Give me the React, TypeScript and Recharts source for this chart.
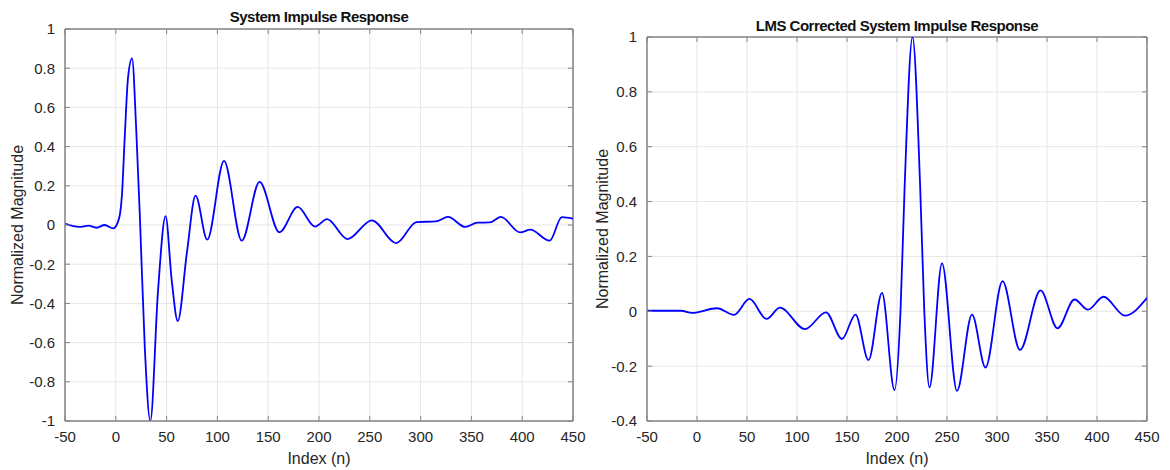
import React from 'react';
import { LineChart, Line, XAxis, YAxis, CartesianGrid, ReferenceLine } from 'recharts';

// ---------- data ----------
const xTicks = [-50, 0, 50, 100, 150, 200, 250, 300, 350, 400, 450];
const leftYTicks = [-1, -0.8, -0.6, -0.4, -0.2, 0, 0.2, 0.4, 0.6, 0.8, 1];
const rightYTicks = [-0.4, -0.2, 0, 0.2, 0.4, 0.6, 0.8, 1];

const leftTitle = 'System Impulse Response';
const rightTitle = 'LMS Corrected System Impulse Response';
const xLabel = 'Index (n)';
const yLabel = 'Normalized Magnitude';

const leftIndex = [
  -50, -36, -27, -19, -11, -2.5, 3, 6, 9, 12, 16, 20, 24, 28.5, 34, 41.5, 49, 55, 61, 70, 78.5,
  90, 106.5, 124, 141.5, 161, 179, 196, 208, 228, 252, 276, 296, 315, 327, 344, 356, 368, 379,
  398, 408, 427, 439, 450,
];
const leftMagnitude = [
  0.007, -0.01, -0.003, -0.014, 0.0, -0.017, 0.03, 0.15, 0.47, 0.75, 0.85, 0.5, 0.0, -0.62, -1.0,
  -0.34, 0.045, -0.28, -0.49, -0.14, 0.15, -0.075, 0.327, -0.08, 0.22, -0.037, 0.092, -0.008,
  0.03, -0.072, 0.024, -0.092, 0.015, 0.018, 0.041, -0.01, 0.012, 0.013, 0.041, -0.038, -0.024,
  -0.08, 0.04, 0.032,
];

const rightIndex = [
  -50, -16, -5, 20, 37, 52.5, 69.5, 83, 108, 129, 145, 158.5, 171.5, 185, 197.5, 203.5, 207.6,
  215.5, 223.2, 227.3, 232.5, 245, 260, 275, 288.5, 305.5, 323, 343.5, 360.5, 377.5, 391, 406.5,
  428, 450,
];
const rightMagnitude = [
  0.002, 0.002, -0.006, 0.011, -0.013, 0.045, -0.028, 0.013, -0.065, -0.004, -0.101, -0.012,
  -0.178, 0.067, -0.287, 0.0, 0.45, 1.0, 0.45, 0.0, -0.277, 0.175, -0.29, -0.012, -0.205, 0.11,
  -0.141, 0.076, -0.062, 0.043, 0.006, 0.053, -0.016, 0.049,
];

const leftData = leftIndex.map((n, i) => ({ n, v: leftMagnitude[i] }));
const rightData = rightIndex.map((n, i) => ({ n, v: rightMagnitude[i] }));

// ---------- style ----------
const FONT = '"Liberation Sans", Arial, Helvetica, sans-serif';
const AXIS = '#858585';
const GRID = '#e6e6e6';
const TEXT = '#262626';
const LINE = '#0000ff';
const TICK_MARGIN = 10;
const TICK_LEN = 5;
const TICK_FONT = 15;

const fmt = (v: number) => {
  const r = Math.round(v * 10) / 10;
  return String(r);
};

const makeXTick = (plotTop: number) => (props: any) => {
  const { x, y, payload } = props;
  const axisY = y - TICK_MARGIN;
  return (
    <g>
      <line x1={x} x2={x} y1={axisY} y2={axisY - TICK_LEN} stroke={AXIS} strokeWidth={1} />
      <line x1={x} x2={x} y1={plotTop} y2={plotTop + TICK_LEN} stroke={AXIS} strokeWidth={1} />
      <text x={x} y={y} dy="0.72em" textAnchor="middle" fill={TEXT} fontSize={TICK_FONT} fontFamily={FONT}>
        {fmt(payload.value)}
      </text>
    </g>
  );
};

const makeYTick = (plotRight: number) => (props: any) => {
  const { x, y, payload } = props;
  const axisX = x + TICK_MARGIN;
  return (
    <g>
      <line x1={axisX} x2={axisX + TICK_LEN} y1={y} y2={y} stroke={AXIS} strokeWidth={1} />
      <line x1={plotRight} x2={plotRight - TICK_LEN} y1={y} y2={y} stroke={AXIS} strokeWidth={1} />
      <text x={x} y={y} dy="0.36em" textAnchor="end" fill={TEXT} fontSize={TICK_FONT} fontFamily={FONT}>
        {fmt(payload.value)}
      </text>
    </g>
  );
};

type PanelProps = {
  data: { n: number; v: number }[];
  yTicks: number[];
  yDomain: [number, number];
  top: number;
  left: number;
  right: number;
};

const W = 590;
const H = 470;
const PLOT_BOTTOM = 421;

function Panel({ data, yTicks, yDomain, top, left, right }: PanelProps) {
  const plotRight = right;
  return (
    <LineChart
      width={W}
      height={H}
      data={data}
      margin={{ top, right: W - right, bottom: H - PLOT_BOTTOM - 30, left: 0 }}
    >
      <CartesianGrid stroke={GRID} strokeWidth={1} />
      <XAxis
        dataKey="n"
        type="number"
        domain={[-50, 450]}
        ticks={xTicks}
        interval={0}
        height={30}
        tickSize={0}
        tickMargin={TICK_MARGIN}
        tickLine={false}
        axisLine={{ stroke: AXIS, strokeWidth: 1.5 }}
        tick={makeXTick(top)}
        allowDataOverflow
      />
      <YAxis
        type="number"
        domain={yDomain}
        ticks={yTicks}
        interval={0}
        width={left}
        tickSize={0}
        tickMargin={TICK_MARGIN}
        tickLine={false}
        axisLine={{ stroke: AXIS, strokeWidth: 1.5 }}
        tick={makeYTick(plotRight)}
        allowDataOverflow
      />
      <ReferenceLine y={yDomain[1]} stroke={AXIS} strokeWidth={1.5} />
      <ReferenceLine x={450} stroke={AXIS} strokeWidth={1.5} />
      <Line
        type="monotone"
        dataKey="v"
        stroke={LINE}
        strokeWidth={1.8}
        dot={false}
        activeDot={false}
        isAnimationActive={false}
      />
    </LineChart>
  );
}

const abs = (l: number, t: number): React.CSSProperties => ({ position: 'absolute', left: l, top: t });

function Title({ text, cx, cy }: { text: string; cx: number; cy: number }) {
  return (
    <div
      style={{
        ...abs(cx - 250, cy - 10),
        width: 500,
        height: 20,
        lineHeight: '20px',
        textAlign: 'center',
        fontFamily: FONT,
        fontWeight: 'bold',
        fontSize: 15,
        letterSpacing: '-0.5px',
        color: '#111',
        whiteSpace: 'nowrap',
      }}
    >
      {text}
    </div>
  );
}

function AxisLabel({ text, cx, cy, rotate }: { text: string; cx: number; cy: number; rotate?: boolean }) {
  return (
    <div
      style={{
        ...abs(cx - 150, cy - 10),
        width: 300,
        height: 20,
        lineHeight: '20px',
        textAlign: 'center',
        fontFamily: FONT,
        fontSize: 16,
        color: TEXT,
        whiteSpace: 'nowrap',
        transform: rotate ? 'rotate(-90deg)' : undefined,
      }}
    >
      {text}
    </div>
  );
}

export default function App() {
  return (
    <div style={{ position: 'fixed', left: 0, top: 0, width: 1170, height: 470, background: '#fff', overflow: 'hidden' }}>
      <div style={abs(0, 0)}>
        <Panel data={leftData} yTicks={leftYTicks} yDomain={[-1, 1]} top={29} left={65} right={573} />
      </div>
      <div style={abs(580, 0)}>
        <Panel data={rightData} yTicks={rightYTicks} yDomain={[-0.4, 1]} top={37} left={67} right={567} />
      </div>
      <Title text={leftTitle} cx={319} cy={17} />
      <Title text={rightTitle} cx={897} cy={26} />
      <AxisLabel text={xLabel} cx={319} cy={459} />
      <AxisLabel text={xLabel} cx={897} cy={459} />
      <AxisLabel text={yLabel} cx={18} cy={225} rotate />
      <AxisLabel text={yLabel} cx={603} cy={229} rotate />
    </div>
  );
}
